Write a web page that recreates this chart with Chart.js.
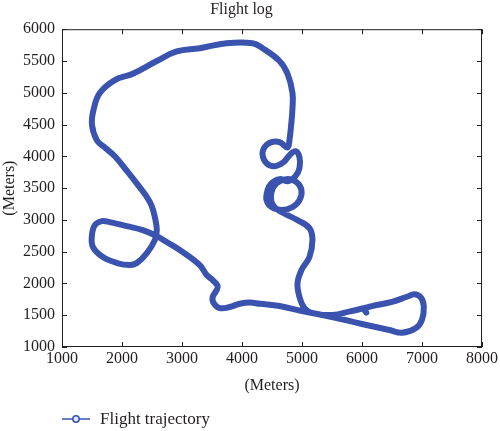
<!DOCTYPE html>
<html>
<head>
<meta charset="utf-8">
<title>Flight log</title>
<script src="https://cdn.jsdelivr.net/npm/chart.js@4.4.1/dist/chart.umd.min.js"></script>
<style>
    html, body { margin: 0; padding: 0; background: #fff; }
    #wrap { width: 500px; height: 431px; }
</style>
</head>
<body>
<div id="wrap"><canvas id="flightChart" width="500" height="431"></canvas></div>
<script>
// trajectory (meters), in flight order
const flightX = [
    6072, 6040, 6150, 6500, 6750, 6870, 6980, 7030, 7000, 6900, 6670, 6455, 6000, 5500, 5000,
    4625, 4300, 4126, 3960, 3794, 3628, 3528, 3511, 3578, 3594, 3511, 3411, 3295, 2962, 2746,
    2580, 2347, 2081, 1798, 1665, 1549, 1499, 1516, 1682, 1915, 2131, 2247, 2414, 2547, 2580,
    2547, 2490, 2400, 2290, 2098, 1881, 1700, 1582, 1499, 1530, 1632, 1881, 2180, 2580, 2912,
    3295, 3744, 4176, 4343, 4625, 4758, 4841, 4841, 4820, 4790, 4760, 4625, 4492, 4376, 4343,
    4409, 4542, 4692, 4792, 4891, 4958, 4958, 4891, 4775, 4625, 4492, 4426, 4409, 4492, 4659,
    4841, 4958, 4991, 4908, 4742, 4575, 4492, 4492, 4575, 4725, 4925, 5124, 5174, 5124, 4991,
    4925, 4958, 5041, 5174, 5507, 5800, 6050
];
const flightY = [
    1540, 1600, 1640, 1710, 1790, 1830, 1780, 1640, 1430, 1300, 1225, 1267, 1362, 1472, 1566,
    1645, 1680, 1700, 1680, 1629, 1613, 1692, 1786, 1896, 1960, 2053, 2132, 2289, 2525, 2651,
    2745, 2839, 2902, 2965, 2981, 2918, 2761, 2572, 2415, 2321, 2289, 2321, 2478, 2682, 2839,
    3044, 3232, 3380, 3520, 3750, 4000, 4150, 4250, 4500, 4750, 5000, 5200, 5300, 5500, 5650,
    5700, 5780, 5780, 5700, 5500, 5300, 5000, 4750, 4500, 4250, 4140, 4223, 4223, 4144, 4018,
    3892, 3845, 3908, 4018, 4081, 3987, 3814, 3688, 3610, 3641, 3578, 3468, 3311, 3201, 3154,
    3201, 3311, 3468, 3594, 3641, 3578, 3437, 3280, 3170, 3091, 2996, 2871, 2682, 2415, 2210,
    2006, 1786, 1613, 1534, 1503, 1560, 1615
];
const xTicks = [1000, 2000, 3000, 4000, 5000, 6000, 7000, 8000];
const yTicks = [1000, 1500, 2000, 2500, 3000, 3500, 4000, 4500, 5000, 5500, 6000];

const seriesLabel = "Flight trajectory";
const lineColor = "#3953ae";
const inkColor = "#231f20";
const serif = "'Liberation Serif', 'DejaVu Serif', serif";

// box round the plot, inward ticks on all four sides, and the legend under the axis title
const frameAndLegend = {
    id: 'frameAndLegend',
    afterDraw(chart) {
        const { ctx, chartArea: a, scales: { x, y } } = chart;
        ctx.save();
        ctx.strokeStyle = inkColor;
        ctx.lineWidth = 1;
        ctx.strokeRect(a.left + 0.5, a.top + 0.5, a.right - a.left - 1, a.bottom - a.top - 1);
        ctx.beginPath();
        xTicks.forEach(v => {
            const px = Math.round(x.getPixelForValue(v)) + 0.5;
            ctx.moveTo(px, a.bottom); ctx.lineTo(px, a.bottom - 5);
            ctx.moveTo(px, a.top); ctx.lineTo(px, a.top + 5);
        });
        yTicks.forEach(v => {
            const py = Math.round(y.getPixelForValue(v)) + 0.5;
            ctx.moveTo(a.left, py); ctx.lineTo(a.left + 5, py);
            ctx.moveTo(a.right, py); ctx.lineTo(a.right - 5, py);
        });
        ctx.stroke();

        // legend
        const ly = 419;
        ctx.strokeStyle = lineColor;
        ctx.lineWidth = 1.5;
        ctx.beginPath();
        ctx.moveTo(62, ly); ctx.lineTo(90, ly);
        ctx.stroke();
        ctx.beginPath();
        ctx.arc(76, ly, 3.2, 0, Math.PI * 2);
        ctx.fillStyle = "#dfe4f3";
        ctx.fill();
        ctx.stroke();
        ctx.fillStyle = inkColor;
        ctx.font = "17px " + serif;
        ctx.textBaseline = "middle";
        ctx.textAlign = "left";
        ctx.fillText(seriesLabel, 100, ly + 1);
        ctx.restore();
    }
};

const ctx = document.getElementById("flightChart").getContext("2d");
new Chart(ctx, {
    type: 'scatter',
    data: {
        datasets: [{
            label: seriesLabel,
            data: flightX.map((v, i) => ({ x: v, y: flightY[i] })),
            showLine: true,
            borderColor: lineColor,
            backgroundColor: lineColor,
            borderWidth: 6,
            tension: 0.4,
            pointRadius: 0,
            borderCapStyle: 'round',
            borderJoinStyle: 'round'
        }]
    },
    options: {
        responsive: false,
        animation: false,
        layout: { padding: { left: 0, right: 17, top: 0, bottom: 0 } },
        plugins: {
            legend: { display: false },
            tooltip: { enabled: false },
            title: {
                display: true,
                text: "Flight log",
                color: inkColor,
                font: { family: serif, size: 16, weight: 'normal' },
                padding: { top: 0, bottom: 10 }
            }
        },
        scales: {
            x: {
                type: 'linear',
                min: 1000,
                max: 8000,
                afterBuildTicks: scale => { scale.ticks = xTicks.map(v => ({ value: v })); },
                afterFit: scale => { scale.height = 84; },
                grid: { display: false, drawTicks: false },
                border: { display: false },
                ticks: {
                    color: inkColor, padding: 2, maxRotation: 0,
                    font: { family: serif, size: 16 },
                    callback: v => String(v)
                },
                title: {
                    display: true,
                    text: "(Meters)",
                    color: inkColor,
                    font: { family: serif, size: 16 },
                    padding: { top: 0, bottom: 36 }
                }
            },
            y: {
                type: 'linear',
                min: 1000,
                max: 6000,
                afterBuildTicks: scale => { scale.ticks = yTicks.map(v => ({ value: v })); },
                afterFit: scale => { scale.width = 62; },
                grid: { display: false, drawTicks: false },
                border: { display: false },
                ticks: {
                    color: inkColor, padding: 7,
                    font: { family: serif, size: 16 },
                    callback: v => String(v)
                },
                title: {
                    display: true,
                    text: "(Meters)",
                    color: inkColor,
                    font: { family: serif, size: 16 },
                    padding: { top: 0, bottom: 0 }
                }
            }
        }
    },
    plugins: [frameAndLegend]
});
</script>
</body>
</html>
